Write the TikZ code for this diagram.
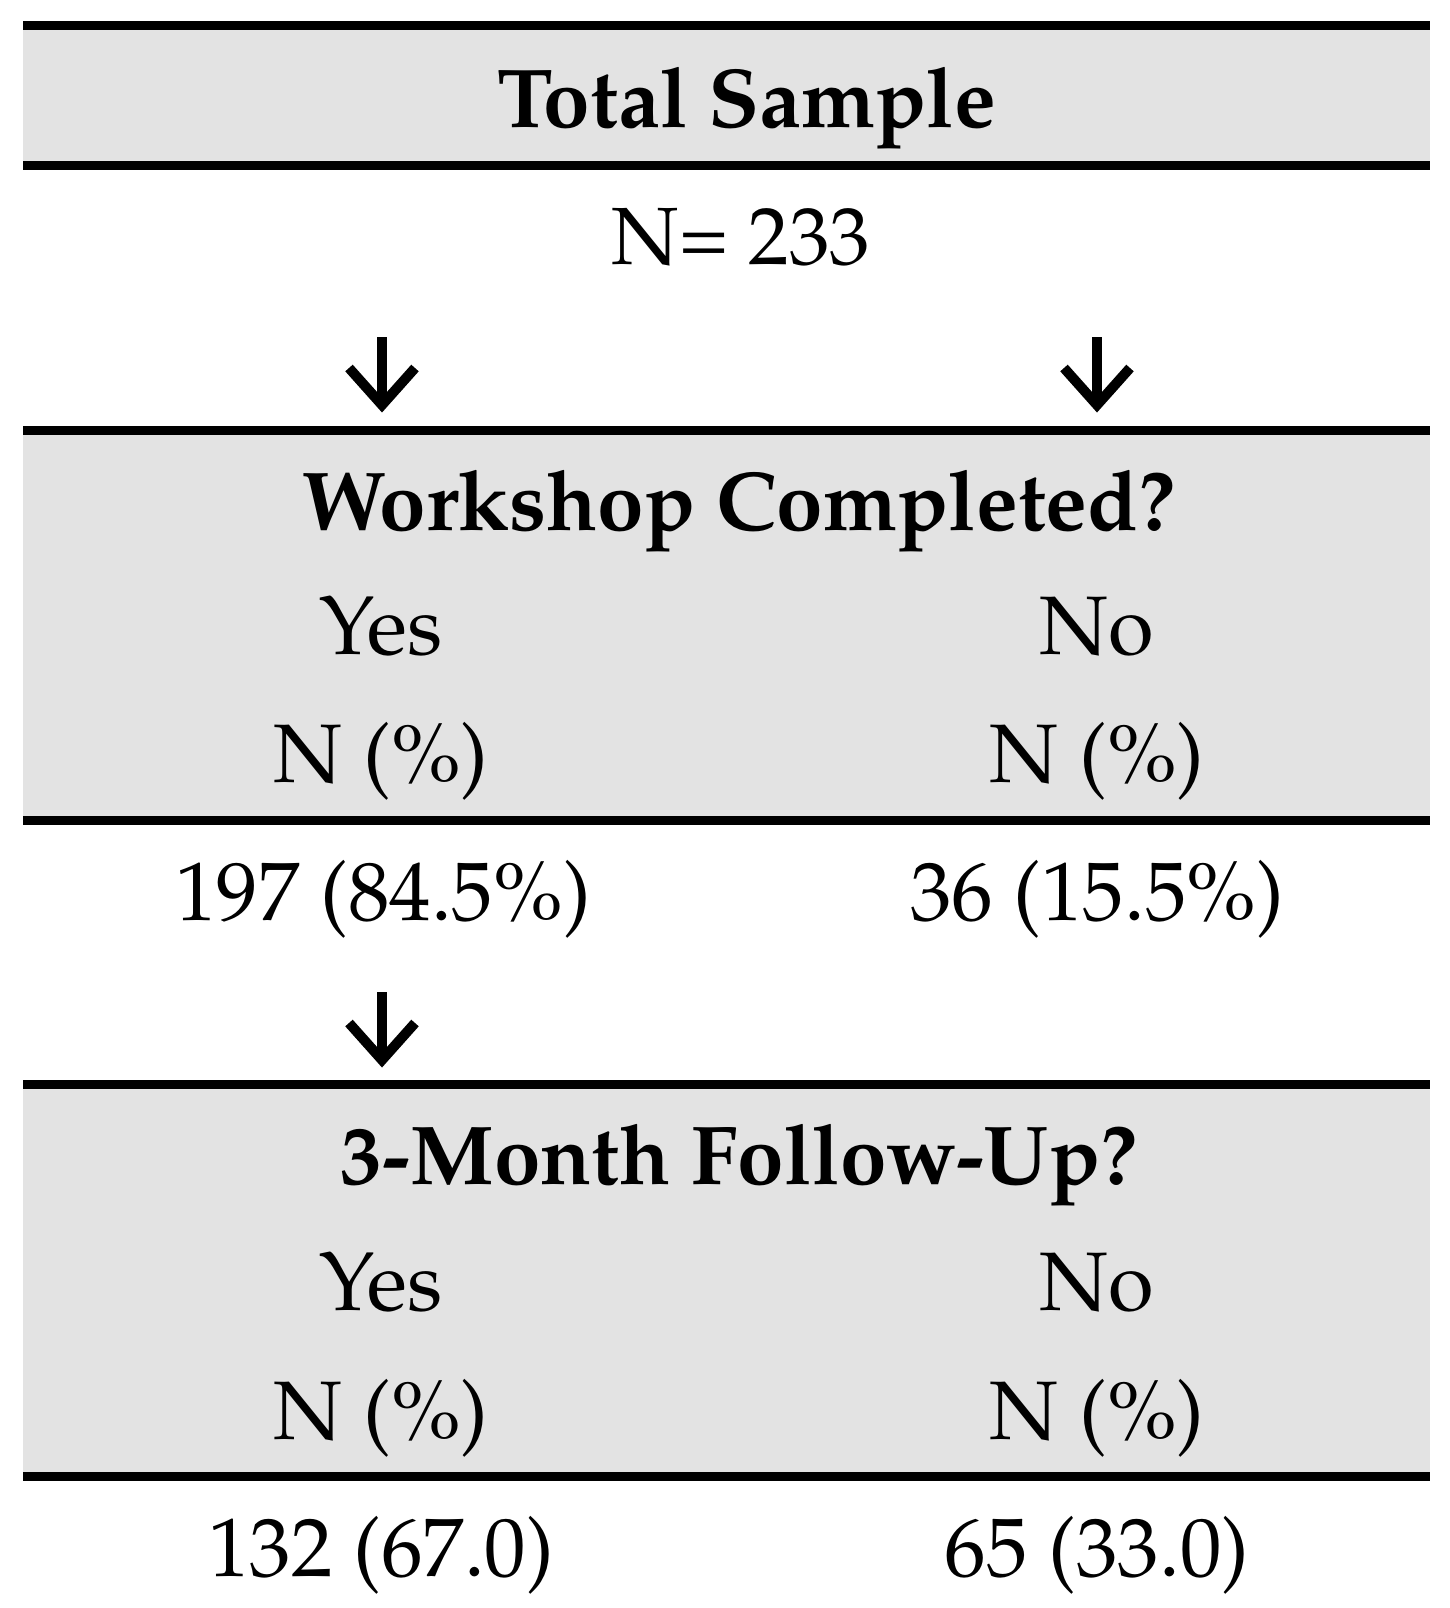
\documentclass[tikz,border=0pt]{standalone}
\usepackage[T1]{fontenc}
\usepackage{mathpazo}
\definecolor{bandgray}{RGB}{227,227,227}
\begin{document}
\begin{tikzpicture}[x=0.5pt,y=-0.5pt,
  rule/.style={line width=4.5pt},
  band/.style={fill=bandgray},
  txt/.style={anchor=base,inner sep=0pt,font=\fontsize{41.5}{48}\selectfont},
  hdr/.style={anchor=base,inner sep=0pt,font=\fontsize{41.8}{48}\selectfont\bfseries},
  dnarrow/.style={line width=5pt,line join=miter}]
\useasboundingbox[fill=white] (0,0) rectangle (1450,1608);
% bands
\fill[band] (23,25.5) rectangle (1430,165.5);
\fill[band] (23,430.5) rectangle (1430,820.5);
\fill[band] (23,1084) rectangle (1430,1476);
\draw[rule] (23,25.5) -- (1430,25.5);
\draw[rule] (23,165.5) -- (1430,165.5);
\draw[rule] (23,430.5) -- (1430,430.5);
\draw[rule] (23,820.5) -- (1430,820.5);
\draw[rule] (23,1084) -- (1430,1084);
\draw[rule] (23,1476) -- (1430,1476);
% texts
\node[hdr] (total) at (747,127) {Total Sample};
\node[txt,font=\fontsize{40.6}{48}\selectfont] (n) at (741,264) {N= 233};
\node[hdr] (work) at (739,530) {Workshop Completed?};
\node[txt] (wyes) at (381,654) {Yes};
\node[txt] (wno) at (1097,654) {No};
\node[txt] (wyn) at (381,782) {N (\%)};
\node[txt] (wnn) at (1097,782) {N (\%)};
\node[txt] (wyv) at (383,920) {197 (84.5\%)};
\node[txt] (wnv) at (1097,920) {36 (15.5\%)};
\node[hdr] (foll) at (739,1184) {3-Month Follow-Up?};
\node[txt] (fyes) at (381,1310) {Yes};
\node[txt] (fno) at (1097,1310) {No};
\node[txt] (fyn) at (381,1439) {N (\%)};
\node[txt] (fnn) at (1097,1439) {N (\%)};
\node[txt] (fyv) at (381,1576) {132 (67.0)};
\node[txt] (fnv) at (1097,1576) {65 (33.0)};
% arrows
\coordinate (a1s) at (382,337);
\coordinate (a1t) at (382,405);
\coordinate (a2s) at (1097,337);
\coordinate (a2t) at (1097,405);
\coordinate (a3s) at (382,992);
\coordinate (a3t) at (382,1060);
\foreach \s/\t in {a1s/a1t,a2s/a2t,a3s/a3t}{
  \draw[dnarrow] (\s) -- (\t);
  \draw[dnarrow] ([shift={(-33,-37)}]\t) -- (\t) -- ([shift={(33,-37)}]\t);
}
\end{tikzpicture}
\end{document}
